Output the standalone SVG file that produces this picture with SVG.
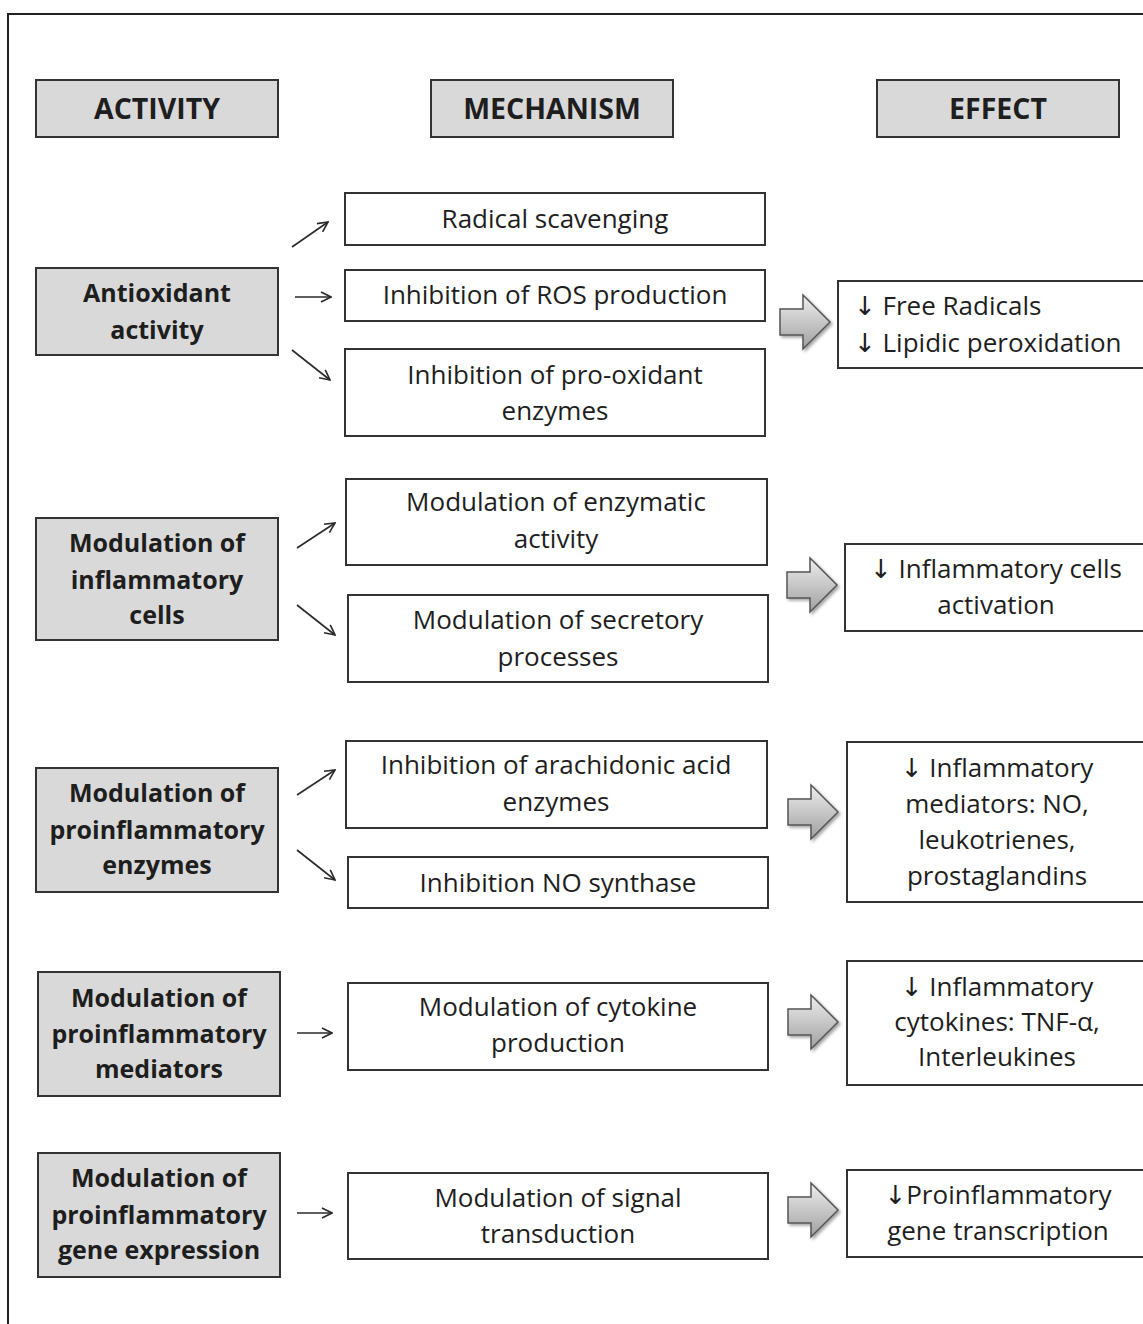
<svg xmlns="http://www.w3.org/2000/svg" width="1143" height="1324" viewBox="0 0 1143 1324">
<style>
text{font-family:"Open Sans","Noto Sans","DejaVu Sans",sans-serif;font-size:26px;fill:#1e1e1e;text-anchor:middle}
.b{font-weight:bold;font-size:25px}
.h{font-weight:bold;font-size:28.5px}
.g{fill:#d9d9d9;stroke:#333;stroke-width:2}
.w{fill:#fff;stroke:#333;stroke-width:2}
.c line{stroke:#2a2a2a;stroke-width:1.6;marker-end:url(#ah)}
.blk{fill:url(#bg);stroke:#555;stroke-width:1.5;filter:url(#sh)}
.l{text-anchor:start}
</style>
<defs>
<marker id="ah" viewBox="0 0 12 12" refX="11" refY="6" markerWidth="12" markerHeight="12" markerUnits="userSpaceOnUse" orient="auto">
<path d="M1,1 L11,6 L1,11" fill="none" stroke="#2a2a2a" stroke-width="1.6"/>
</marker>
<linearGradient id="bg" x1="0" y1="0" x2="0" y2="1">
<stop offset="0" stop-color="#eeeeee"/>
<stop offset="1" stop-color="#a0a0a0"/>
</linearGradient>
<filter id="sh" x="-20%" y="-20%" width="150%" height="150%">
<feDropShadow dx="2" dy="2" stdDeviation="1.5" flood-color="#000" flood-opacity="0.35"/>
</filter>
<path id="ba" d="M0,-13 L23,-13 L23,-27 L50,0 L23,27 L23,13 L0,13 Z"/>
</defs>
<rect width="1143" height="1324" fill="#fff"/>
<path d="M8,1324 L8,14 L1143,14" fill="none" stroke="#222" stroke-width="2"/>

<g id="hdr-activity"><rect class="g" x="36" y="80" width="242" height="57"/><text class="h" x="157" y="119">ACTIVITY</text></g>
<g id="hdr-mechanism"><rect class="g" x="431" y="80" width="242" height="57"/><text class="h" x="552" y="119">MECHANISM</text></g>
<g id="hdr-effect"><rect class="g" x="877" y="80" width="242" height="57"/><text class="h" x="998" y="119">EFFECT</text></g>

<g id="act-antioxidant"><rect class="g" x="36" y="268" width="242" height="87"/><text class="b" x="157" y="302">Antioxidant</text><text class="b" x="157" y="339">activity</text></g>
<g id="act-cells"><rect class="g" x="36" y="518" width="242" height="122"/><text class="b" x="157" y="552">Modulation of</text><text class="b" x="157" y="589">inflammatory</text><text class="b" x="157" y="624">cells</text></g>
<g id="act-enzymes"><rect class="g" x="36" y="768" width="242" height="124"/><text class="b" x="157" y="802">Modulation of</text><text class="b" x="157" y="839">proinflammatory</text><text class="b" x="157" y="874">enzymes</text></g>
<g id="act-mediators"><rect class="g" x="38" y="972" width="242" height="124"/><text class="b" x="159" y="1007">Modulation of</text><text class="b" x="159" y="1043">proinflammatory</text><text class="b" x="159" y="1078">mediators</text></g>
<g id="act-gene"><rect class="g" x="38" y="1153" width="242" height="124"/><text class="b" x="159" y="1187">Modulation of</text><text class="b" x="159" y="1224">proinflammatory</text><text class="b" x="159" y="1259">gene expression</text></g>

<g id="mech-radical"><rect class="w" x="345" y="193" width="420" height="52"/><text x="555" y="228">Radical scavenging</text></g>
<g id="mech-ros"><rect class="w" x="345" y="270" width="420" height="51"/><text x="555" y="304">Inhibition of ROS production</text></g>
<g id="mech-prooxidant"><rect class="w" x="345" y="349" width="420" height="87"/><text x="555" y="384">Inhibition of pro-oxidant</text><text x="555" y="420">enzymes</text></g>
<g id="mech-enzymatic"><rect class="w" x="346" y="479" width="421" height="86"/><text x="556" y="511">Modulation of enzymatic</text><text x="556" y="548">activity</text></g>
<g id="mech-secretory"><rect class="w" x="348" y="595" width="420" height="87"/><text x="558" y="629">Modulation of secretory</text><text x="558" y="666">processes</text></g>
<g id="mech-arachidonic"><rect class="w" x="346" y="741" width="421" height="87"/><text x="556" y="774">Inhibition of arachidonic acid</text><text x="556" y="811">enzymes</text></g>
<g id="mech-nos"><rect class="w" x="348" y="857" width="420" height="51"/><text x="558" y="892">Inhibition NO synthase</text></g>
<g id="mech-cytokine"><rect class="w" x="348" y="983" width="420" height="87"/><text x="558" y="1016">Modulation of cytokine</text><text x="558" y="1052">production</text></g>
<g id="mech-signal"><rect class="w" x="348" y="1173" width="420" height="86"/><text x="558" y="1207">Modulation of signal</text><text x="558" y="1243">transduction</text></g>

<g id="eff-radicals"><rect class="w" x="838" y="281" width="310" height="87"/><text class="l" x="854" y="315">↓ Free Radicals</text><text class="l" x="854" y="352">↓ Lipidic peroxidation</text></g>
<g id="eff-cells"><rect class="w" x="845" y="544" width="303" height="87"/><text x="996" y="578">↓ Inflammatory cells</text><text x="996" y="614">activation</text></g>
<g id="eff-mediators"><rect class="w" x="847" y="742" width="301" height="160"/><text x="997" y="777">↓ Inflammatory</text><text x="997" y="813">mediators: NO,</text><text x="997" y="849">leukotrienes,</text><text x="997" y="885">prostaglandins</text></g>
<g id="eff-cytokines"><rect class="w" x="847" y="961" width="301" height="124"/><text x="997" y="996">↓ Inflammatory</text><text x="997" y="1031">cytokines: TNF-α,</text><text x="997" y="1066">Interleukines</text></g>
<g id="eff-gene"><rect class="w" x="847" y="1170" width="301" height="87"/><text x="998" y="1204">↓Proinflammatory</text><text x="998" y="1240">gene transcription</text></g>

<g id="connectors" class="c">
<line x1="292" y1="247" x2="328" y2="222"/>
<line x1="295" y1="297" x2="331" y2="297"/>
<line x1="292" y1="350" x2="330" y2="380"/>
<line x1="297" y1="548" x2="335" y2="523"/>
<line x1="297" y1="605" x2="335" y2="635"/>
<line x1="297" y1="795" x2="335" y2="770"/>
<line x1="297" y1="850" x2="335" y2="880"/>
<line x1="297" y1="1033" x2="332" y2="1033"/>
<line x1="297" y1="1213" x2="332" y2="1213"/>
<use href="#ba" class="blk" x="780" y="322"/>
<use href="#ba" class="blk" x="787" y="585"/>
<use href="#ba" class="blk" x="788" y="812"/>
<use href="#ba" class="blk" x="788" y="1022"/>
<use href="#ba" class="blk" x="788" y="1210"/>
</g>
</svg>
